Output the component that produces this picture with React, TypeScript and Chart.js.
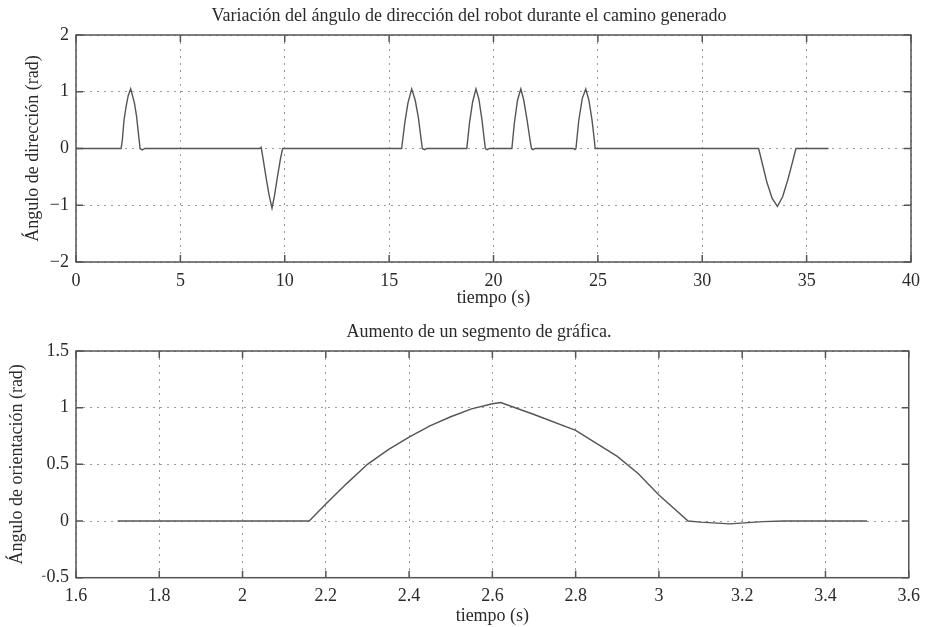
import React, { useEffect, useRef } from "react";
import { Chart, registerables } from "chart.js";
Chart.register(...registerables);

// ---- Data ----
const topTime = [
  0, 2.16, 2.22, 2.3, 2.4, 2.5, 2.62, 2.7, 2.8, 2.9, 3.0, 3.07, 3.17, 3.3,
  8.8, 8.87, 8.95, 9.1, 9.25, 9.39, 9.5, 9.65, 9.8, 9.9,
  15.6, 15.75, 15.9, 16.08, 16.25, 16.4, 16.52, 16.59, 16.7, 16.8,
  18.72, 18.85, 19.0, 19.16, 19.3, 19.45, 19.55, 19.61, 19.7, 19.8,
  20.88, 21.0, 21.15, 21.31, 21.45, 21.6, 21.75, 21.82, 21.9, 22.0,
  23.82, 23.9, 23.95, 24.08, 24.25, 24.42, 24.57, 24.72, 24.82, 24.87, 25.0,
  32.7, 32.9, 33.1, 33.35, 33.6, 33.85, 34.1, 34.3, 34.49, 36.05,
];
const topAngle = [
  0, 0, 0.15, 0.5, 0.74, 0.93, 1.05, 0.94, 0.8, 0.57, 0.23, 0, -0.025, 0,
  0, 0.02, -0.15, -0.5, -0.82, -1.05, -0.85, -0.5, -0.17, 0,
  0, 0.45, 0.8, 1.05, 0.85, 0.55, 0.2, 0, -0.02, 0,
  0, 0.45, 0.82, 1.05, 0.87, 0.5, 0.18, 0, -0.02, 0,
  0, 0.45, 0.85, 1.05, 0.85, 0.52, 0.15, 0, -0.02, 0,
  0, -0.02, 0, 0.48, 0.88, 1.05, 0.85, 0.5, 0.18, 0, 0,
  0, -0.3, -0.6, -0.88, -1.02, -0.85, -0.55, -0.27, 0, 0,
];

const zoomTime = [
  1.7, 2.16, 2.2, 2.25, 2.3, 2.35, 2.4, 2.45, 2.5, 2.55, 2.6, 2.62,
  2.7, 2.8, 2.9, 2.95, 3.0, 3.07, 3.1, 3.17, 3.25, 3.3, 3.5,
];
const zoomAngle = [
  0, 0, 0.15, 0.33, 0.5, 0.63, 0.74, 0.84, 0.92, 0.99, 1.035, 1.045,
  0.94, 0.8, 0.57, 0.42, 0.23, 0, -0.01, -0.025, -0.005, 0, 0,
];

const topXTicks = [0, 5, 10, 15, 20, 25, 30, 35, 40];
const topYTicks = [-2, -1, 0, 1, 2];
const zoomXTicks = [1.6, 1.8, 2, 2.2, 2.4, 2.6, 2.8, 3, 3.2, 3.4, 3.6];
const zoomYTicks = [-0.5, 0, 0.5, 1, 1.5];

const topTitle = "Variación del ángulo de dirección del robot durante el camino generado";
const zoomTitle = "Aumento de un segmento de gráfica.";
const xLabel = "tiempo (s)";
const topYLabel = "Ángulo de dirección (rad)";
const zoomYLabel = "Ángulo de orientación (rad)";

const FONT = "'Liberation Serif', 'Times New Roman', serif";
const TEXT = "#2a2a2a";
const FS = 18;

const boxPlugin = {
  id: "boxTicks",
  afterDraw(chart: any) {
    const { ctx, chartArea } = chart;
    const { left, right, top, bottom } = chartArea;
    const x = chart.scales.x;
    const y = chart.scales.y;
    ctx.save();
    ctx.strokeStyle = "#555";
    ctx.lineWidth = 1.5;
    ctx.strokeRect(left, top, right - left, bottom - top);
    const L = 7;
    ctx.beginPath();
    x.ticks.forEach((t: any) => {
      const px = x.getPixelForValue(t.value);
      ctx.moveTo(px, bottom);
      ctx.lineTo(px, bottom - L);
      ctx.moveTo(px, top);
      ctx.lineTo(px, top + L);
    });
    y.ticks.forEach((t: any) => {
      const py = y.getPixelForValue(t.value);
      ctx.moveTo(left, py);
      ctx.lineTo(left + L, py);
      ctx.moveTo(right, py);
      ctx.lineTo(right - L, py);
    });
    ctx.stroke();
    ctx.restore();
  },
};

type PanelProps = {
  time: number[];
  values: number[];
  xTicks: number[];
  yTicks: number[];
  title: string;
  yLabel: string;
  height: number;
  top: number;
  padLeft: number;
  titlePad: { top: number; bottom: number };
  xAxisHeight: number;
  xTitlePadBottom: number;
  yTitlePadTop: number;
};

function fmt(v: number) {
  const s = String(Math.round(v * 1000) / 1000);
  return s.replace("-", "\u2212");
}

function Panel(p: PanelProps) {
  const ref = useRef<HTMLCanvasElement>(null);
  useEffect(() => {
    if (!ref.current) return;
    const data = p.time.map((t, i) => ({ x: t, y: p.values[i] }));
    const chart = new Chart(ref.current, {
      type: "line",
      data: {
        datasets: [
          {
            data,
            borderColor: "#555",
            borderWidth: 1.4,
            pointRadius: 0,
            tension: 0,
            fill: false,
          },
        ],
      },
      options: {
        responsive: false,
        animation: false,
        layout: { padding: { left: p.padLeft, right: 12, top: 0, bottom: 0 } },
        plugins: {
          legend: { display: false },
          tooltip: { enabled: false },
          title: {
            display: true,
            text: p.title,
            color: TEXT,
            font: { family: FONT, size: FS, weight: "normal" },
            padding: p.titlePad,
          },
        },
        scales: {
          x: {
            type: "linear",
            min: p.xTicks[0],
            max: p.xTicks[p.xTicks.length - 1],
            afterBuildTicks: (s: any) => {
              s.ticks = p.xTicks.map((v) => ({ value: v }));
            },
            afterFit: (s: any) => {
              s.height = p.xAxisHeight;
            },
            ticks: {
              color: TEXT,
              font: { family: FONT, size: FS },
              padding: 8,
              maxRotation: 0,
              autoSkip: false,
              callback: (v: any) => fmt(Number(v)),
            },
            grid: { color: "#9a9a9a", lineWidth: 1, drawTicks: false },
            border: { display: false, dash: [2, 5] },
            title: {
              display: true,
              text: xLabel,
              color: TEXT,
              font: { family: FONT, size: FS },
              padding: { top: 0, bottom: p.xTitlePadBottom },
            },
          },
          y: {
            type: "linear",
            min: p.yTicks[0],
            max: p.yTicks[p.yTicks.length - 1],
            afterBuildTicks: (s: any) => {
              s.ticks = p.yTicks.map((v) => ({ value: v }));
            },
            afterFit: (s: any) => {
              s.width = 76 - p.padLeft;
            },
            ticks: {
              color: TEXT,
              font: { family: FONT, size: FS },
              padding: 7,
              autoSkip: false,
              callback: (v: any) => fmt(Number(v)),
            },
            grid: { color: "#9a9a9a", lineWidth: 1, drawTicks: false },
            border: { display: false, dash: [2, 5] },
            title: {
              display: true,
              text: p.yLabel,
              color: TEXT,
              font: { family: FONT, size: FS },
              padding: { top: p.yTitlePadTop, bottom: 0 },
            },
          },
        },
      },
      plugins: [boxPlugin],
    } as any);
    return () => chart.destroy();
  }, []);
  return (
    <canvas
      ref={ref}
      width={928}
      height={p.height}
      style={{ position: "absolute", left: 0, top: p.top, display: "block" }}
    />
  );
}

export default function App() {
  return (
    <div style={{ position: "absolute", left: 0, top: 0, width: 928, height: 627, background: "#fff" }}>
      <Panel
        time={topTime}
        values={topAngle}
        xTicks={topXTicks}
        yTicks={topYTicks}
        title={topTitle}
        yLabel={topYLabel}
        height={310}
        top={0}
        padLeft={22}
        titlePad={{ top: 5.2, bottom: 8.2 }}
        xAxisHeight={48}
        xTitlePadBottom={1.2}
        yTitlePadTop={0.2}
      />
      <Panel
        time={zoomTime}
        values={zoomAngle}
        xTicks={zoomXTicks}
        yTicks={zoomYTicks}
        title={zoomTitle}
        yLabel={zoomYLabel}
        height={317}
        top={310}
        padLeft={42}
        titlePad={{ top: 11.5, bottom: 7.9 }}
        xAxisHeight={49.3}
        xTitlePadBottom={-0.5}
        yTitlePadTop={-35.8}
      />
    </div>
  );
}
